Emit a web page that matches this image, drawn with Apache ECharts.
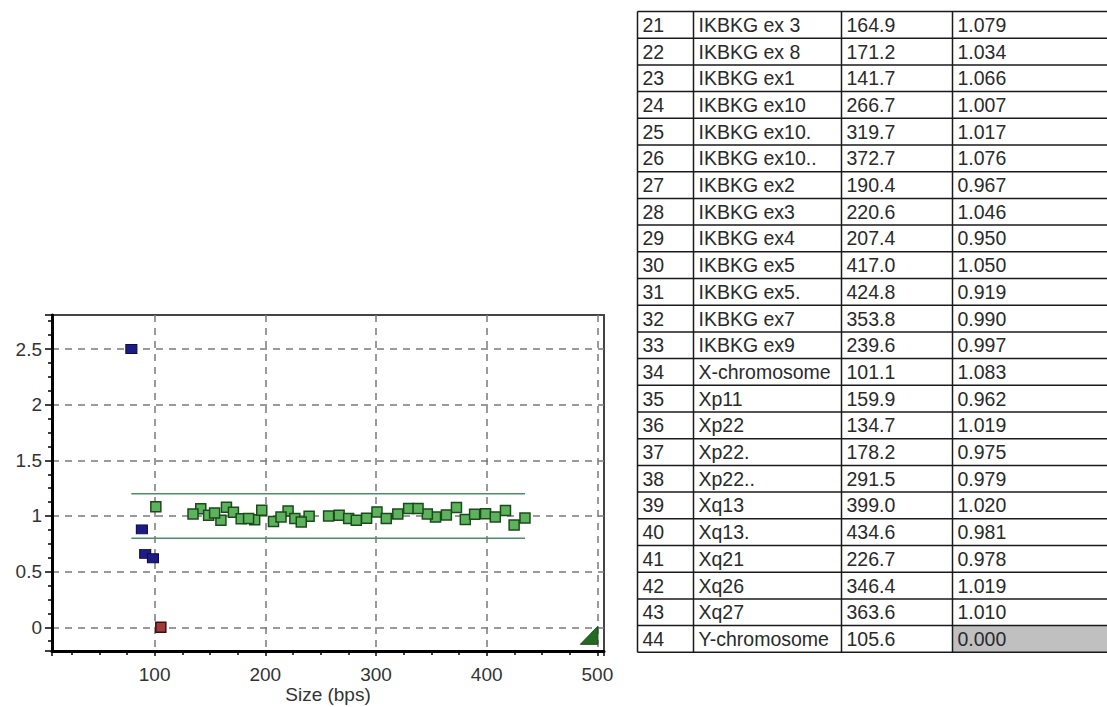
<!DOCTYPE html>
<html><head><meta charset="utf-8">
<script src="https://cdn.jsdelivr.net/npm/echarts@6/dist/echarts.min.js"></script>
<style>html,body{margin:0;padding:0;background:#fff;}#c{width:1107px;height:707px;}</style>
</head><body><div id="c"></div>
<script>
// ---- table rows (visible part of the probe table) ----
const tableNo = [21,22,23,24,25,26,27,28,29,30,31,32,33,34,35,36,37,38,39,40,41,42,43,44];
const tableName = ['IKBKG ex 3','IKBKG ex 8','IKBKG ex1','IKBKG ex10','IKBKG ex10.','IKBKG ex10..','IKBKG ex2','IKBKG ex3','IKBKG ex4','IKBKG ex5','IKBKG ex5.','IKBKG ex7','IKBKG ex9','X-chromosome','Xp11','Xp22','Xp22.','Xp22..','Xq13','Xq13.','Xq21','Xq26','Xq27','Y-chromosome'];
const tableSize = [164.9,171.2,141.7,266.7,319.7,372.7,190.4,220.6,207.4,417.0,424.8,353.8,239.6,101.1,159.9,134.7,178.2,291.5,399.0,434.6,226.7,346.4,363.6,105.6];
const tableRatio = ['1.079','1.034','1.066','1.007','1.017','1.076','0.967','1.046','0.950','1.050','0.919','0.990','0.997','1.083','0.962','1.019','0.975','0.979','1.020','0.981','0.978','1.019','1.010','0.000'];
// ---- probes 1-20 (not in visible table) ----
const otherGreenSize = [148.8,154.2,184.9,196.8,214.2,232.5,257.2,275.3,282.2,300.9,309.3,329.5,338.0,380.7,389.1,407.8];
const otherGreenRatio = [1.007,1.028,0.977,1.052,0.992,0.947,1.001,0.977,0.962,1.037,0.977,1.067,1.067,0.968,1.015,0.992];
const blueSize = [79.0,88.5,91.5,98.5];
const blueRatio = [2.50,0.88,0.66,0.62];
// ---- limits / axes ----
const lowerLimit = 0.8, upperLimit = 1.2;
const bandStart = 79.0, bandEnd = 434.6;
const xMin = 7.3, xMax = 506.0, yMin = -0.213, yMax = 2.806;
const xTickLabels = [100,200,300,400,500];
const yTickLabels = [0,0.5,1,1.5,2,2.5];
const cornerMark = [[484.6,-0.153],[500.5,-0.153],[500.5,0.01]];

const green = [], red = [];
tableSize.forEach((s,i)=>{ const r = parseFloat(tableRatio[i]); (r===0?red:green).push([s,r]); });
otherGreenSize.forEach((s,i)=>green.push([s,otherGreenRatio[i]]));
const blue = blueSize.map((s,i)=>[s,blueRatio[i]]);

const FONT = "'Liberation Sans', Arial, sans-serif";
const chart = echarts.init(document.getElementById('c'), null, {renderer:'svg'});

// table graphic
const colX = [637.5, 693.5, 841.5, 952.5, 1110];
const tTop = 11.5, rowH = 26.7, nRows = tableNo.length;
const g = [];
g.push({type:'rect', shape:{x:colX[3], y:tTop+(nRows-1)*rowH, width:colX[4]-colX[3], height:rowH}, style:{fill:'#c0c0c0'}});
for (let i=0;i<=nRows;i++){
  g.push({type:'line', shape:{x1:colX[0], y1:tTop+i*rowH, x2:colX[4], y2:tTop+i*rowH}, style:{stroke:'#1a1a1a', lineWidth:1.5}});
}
for (let j=0;j<colX.length-1;j++){
  g.push({type:'line', shape:{x1:colX[j], y1:tTop, x2:colX[j], y2:tTop+nRows*rowH}, style:{stroke:'#1a1a1a', lineWidth:1.5}});
}
for (let i=0;i<nRows;i++){
  const cy = tTop + i*rowH + rowH/2;
  const vals = [String(tableNo[i]), tableName[i], tableSize[i].toFixed(1), tableRatio[i]];
  vals.forEach((v,j)=>{
    g.push({type:'text', x:colX[j]+5, y:cy, style:{text:v, font:'19.5px '+FONT, fill:'#2a2a2a', verticalAlign:'middle', align:'left'}});
  });
}

chart.setOption({
  animation:false,
  backgroundColor:'#fff',
  grid:{left:52, top:315, width:552, height:336, show:true, borderColor:'#444', borderWidth:2, containLabel:false},
  xAxis:{
    type:'value', min:xMin, max:xMax, splitNumber:5,
    name:'Size (bps)', nameLocation:'middle', nameGap:33,
    nameTextStyle:{fontSize:19, color:'#333', fontFamily:FONT},
    axisLine:{show:true, onZero:false, lineStyle:{color:'#000', width:3}},
    axisTick:{show:true, length:5, lineStyle:{color:'#000', width:1.5}},
    minorTick:{show:true, splitNumber:4, length:4, lineStyle:{color:'#000', width:1.5}},
    axisLabel:{fontSize:19, color:'#333', fontFamily:FONT, margin:14, showMinLabel:false, showMaxLabel:false,
      formatter:v=> xTickLabels.includes(Math.round(v*1000)/1000) ? String(v) : ''},
    splitLine:{show:true, showMinLine:false, showMaxLine:false, lineStyle:{color:'#7a7a7a', width:1.5, type:[7,6]}}
  },
  yAxis:{
    type:'value', min:yMin, max:yMax, splitNumber:5,
    axisLine:{show:true, onZero:false, lineStyle:{color:'#000', width:3}},
    axisTick:{show:true, length:7, lineStyle:{color:'#000', width:1.5}},
    minorTick:{show:true, splitNumber:4, length:4, lineStyle:{color:'#000', width:1.5}},
    axisLabel:{fontSize:19, color:'#333', fontFamily:FONT, margin:10, showMinLabel:false, showMaxLabel:false,
      formatter:v=> yTickLabels.includes(Math.round(v*1000)/1000) ? String(v) : ''},
    splitLine:{show:true, showMinLine:false, showMaxLine:false, lineStyle:{color:'#7a7a7a', width:1.5, type:[7,6]}}
  },
  series:[
    {type:'line', data:[[bandStart,upperLimit],[bandEnd,upperLimit]], symbol:'none', lineStyle:{color:'#4a8e6c', width:1.6}, z:2, silent:true},
    {type:'line', data:[[bandStart,lowerLimit],[bandEnd,lowerLimit]], symbol:'none', lineStyle:{color:'#4a8e6c', width:1.6}, z:2, silent:true},
    {type:'custom', z:2, silent:true, data:[0], renderItem:(params, api)=>{
        const pts = cornerMark.map(p=>api.coord(p));
        return {type:'polygon', shape:{points:pts}, style:{fill:'#236b23', stroke:'#1a4a1a', lineWidth:1}};
    }},
    {type:'scatter', data:green, symbol:'rect', symbolSize:10, z:5,
      itemStyle:{color:'#5db35d', borderColor:'#1b4a1b', borderWidth:1.5, opacity:1}},
    {type:'scatter', data:blue, symbol:'rect', symbolSize:[11,9], z:5,
      itemStyle:{color:'#1c1c84', borderColor:'#0c0c44', borderWidth:1, opacity:1}},
    {type:'scatter', data:red, symbol:'rect', symbolSize:10, z:5,
      itemStyle:{color:'#a23a3a', borderColor:'#3c1010', borderWidth:1.5, opacity:1}}
  ],
  graphic:g
});
</script></body></html>
